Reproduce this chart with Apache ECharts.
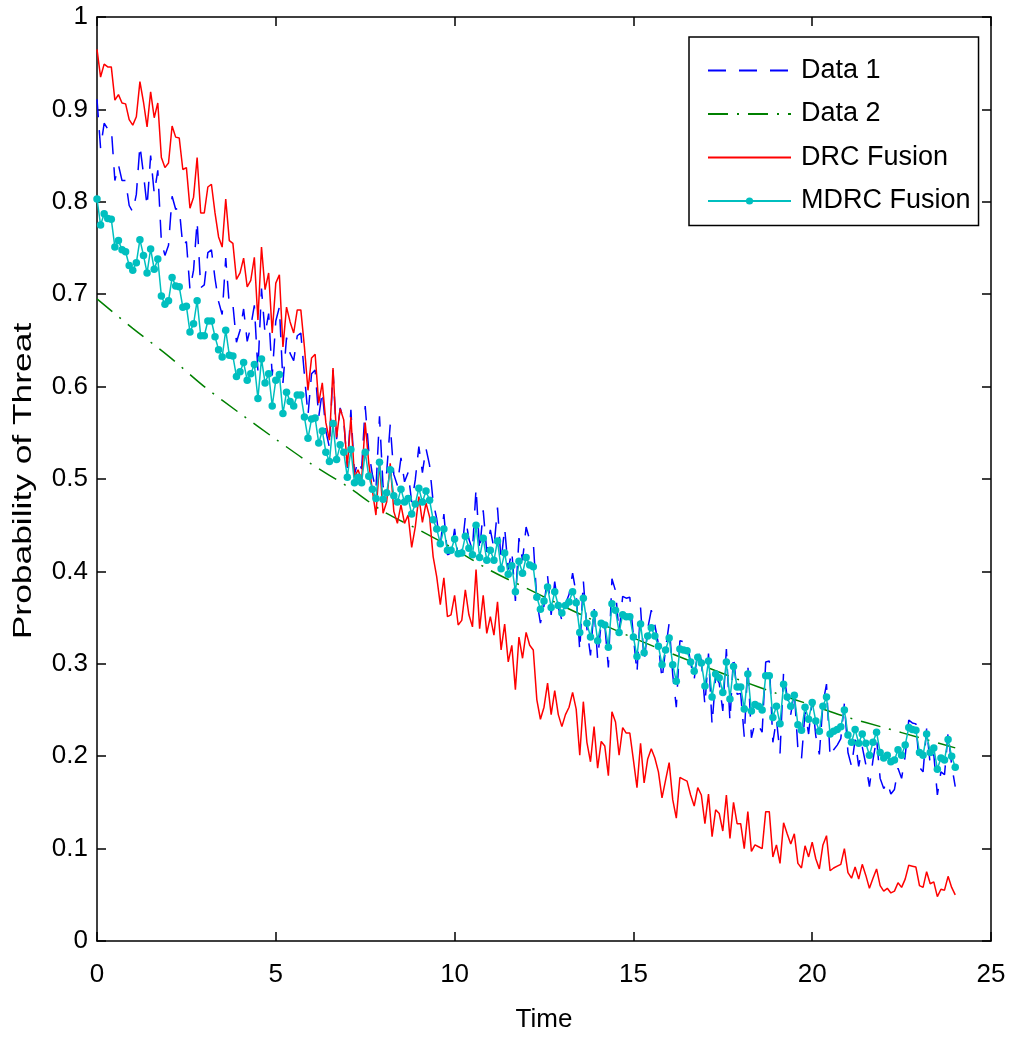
<!DOCTYPE html>
<html><head><meta charset="utf-8">
<script src="https://cdn.jsdelivr.net/npm/echarts@6/dist/echarts.min.js"></script>
<style>html,body{margin:0;padding:0;background:#fff}#c{width:1013px;height:1039px}</style>
</head><body><div id="c"></div>
<script>
// time sample spacing of the noisy series (0 .. 24)
const T_START = 0, T_STEP = 0.1;

const data1 = [0.911,0.858,0.885,0.879,0.880,0.823,0.840,0.823,0.823,0.796,0.789,0.808,0.861,0.830,0.795,0.850,0.809,0.834,0.757,0.742,
0.753,0.806,0.792,0.793,0.752,0.757,0.705,0.726,0.779,0.707,0.710,0.745,0.748,0.717,0.692,0.678,0.739,0.688,0.689,0.648,
0.661,0.684,0.649,0.665,0.688,0.617,0.706,0.657,0.679,0.612,0.671,0.686,0.604,0.653,0.636,0.628,0.655,0.658,0.613,0.569,
0.614,0.618,0.567,0.595,0.552,0.534,0.618,0.543,0.577,0.564,0.512,0.575,0.505,0.520,0.511,0.579,0.530,0.505,0.488,0.568,
0.491,0.507,0.559,0.505,0.493,0.523,0.497,0.507,0.475,0.499,0.535,0.507,0.533,0.515,0.475,0.457,0.428,0.462,0.418,0.420,
0.446,0.416,0.421,0.459,0.435,0.423,0.490,0.422,0.466,0.421,0.445,0.425,0.469,0.411,0.447,0.402,0.422,0.368,0.436,0.412,
0.448,0.434,0.432,0.368,0.344,0.363,0.395,0.353,0.389,0.361,0.347,0.365,0.375,0.398,0.376,0.314,0.390,0.338,0.309,0.361,
0.305,0.345,0.342,0.296,0.392,0.379,0.333,0.373,0.371,0.372,0.330,0.290,0.361,0.301,0.338,0.358,0.342,0.321,0.283,0.316,
0.344,0.288,0.253,0.325,0.324,0.324,0.301,0.283,0.314,0.304,0.255,0.311,0.234,0.286,0.279,0.249,0.316,0.238,0.309,0.267,
0.268,0.221,0.299,0.220,0.236,0.233,0.226,0.302,0.303,0.215,0.240,0.203,0.291,0.264,0.245,0.270,0.208,0.197,0.248,0.224,
0.261,0.222,0.202,0.257,0.278,0.199,0.207,0.212,0.219,0.257,0.204,0.189,0.218,0.189,0.210,0.191,0.167,0.196,0.219,0.176,
0.165,0.172,0.159,0.164,0.187,0.176,0.200,0.239,0.236,0.235,0.188,0.183,0.230,0.191,0.202,0.158,0.183,0.180,0.225,0.190,
0.167];

// Data 2 is smooth: sampled at whole time units
const data2Times = [0,1,2,3,4,5,6,7,8,9,10,11,12,13,14,15,16,17,18,19,20,21,22,23,24];
const data2 = [0.695,0.663,0.633,0.600,0.571,0.543,0.516,0.492,0.465,0.445,0.424,0.401,0.382,0.363,0.345,0.328,0.312,0.297,0.282,0.268,0.255,0.242,0.231,0.220,0.209];

const drc = [0.965,0.935,0.949,0.946,0.946,0.910,0.916,0.907,0.906,0.889,0.883,0.892,0.930,0.908,0.881,0.919,0.891,0.907,0.848,0.837,
0.842,0.882,0.870,0.869,0.835,0.837,0.793,0.805,0.848,0.788,0.788,0.816,0.819,0.788,0.762,0.751,0.803,0.758,0.755,0.716,
0.723,0.739,0.708,0.715,0.740,0.672,0.751,0.705,0.723,0.658,0.712,0.721,0.643,0.686,0.670,0.658,0.683,0.683,0.643,0.596,
0.631,0.635,0.582,0.604,0.561,0.542,0.620,0.545,0.576,0.564,0.513,0.567,0.502,0.510,0.499,0.561,0.517,0.488,0.461,0.518,
0.463,0.475,0.517,0.465,0.452,0.472,0.452,0.461,0.426,0.448,0.481,0.453,0.474,0.459,0.416,0.394,0.364,0.393,0.351,0.353,
0.374,0.342,0.347,0.380,0.353,0.340,0.402,0.338,0.374,0.333,0.351,0.331,0.367,0.315,0.343,0.302,0.320,0.272,0.329,0.306,
0.334,0.320,0.315,0.261,0.240,0.253,0.279,0.245,0.271,0.245,0.232,0.245,0.253,0.269,0.251,0.201,0.259,0.215,0.194,0.232,
0.187,0.216,0.211,0.179,0.248,0.237,0.201,0.231,0.225,0.225,0.196,0.166,0.214,0.171,0.197,0.208,0.198,0.183,0.155,0.174,
0.193,0.153,0.133,0.177,0.175,0.173,0.158,0.146,0.166,0.158,0.127,0.159,0.113,0.142,0.138,0.119,0.158,0.111,0.150,0.127,
0.127,0.100,0.140,0.097,0.104,0.102,0.100,0.140,0.140,0.091,0.104,0.084,0.128,0.116,0.105,0.116,0.084,0.079,0.103,0.091,
0.107,0.089,0.078,0.104,0.114,0.076,0.079,0.081,0.083,0.100,0.074,0.068,0.080,0.067,0.083,0.071,0.057,0.068,0.078,0.060,
0.054,0.057,0.052,0.054,0.063,0.058,0.067,0.082,0.081,0.080,0.060,0.058,0.075,0.062,0.064,0.048,0.056,0.055,0.070,0.058,
0.050];

const mdrc = [0.803,0.775,0.787,0.782,0.781,0.751,0.758,0.748,0.746,0.731,0.726,0.734,0.759,0.742,0.723,0.749,0.727,0.738,0.698,0.689,
0.693,0.718,0.709,0.708,0.686,0.687,0.659,0.668,0.693,0.655,0.655,0.671,0.671,0.654,0.640,0.632,0.661,0.634,0.633,0.611,
0.616,0.626,0.607,0.614,0.624,0.587,0.630,0.604,0.614,0.579,0.607,0.613,0.571,0.594,0.584,0.579,0.591,0.591,0.567,0.544,
0.565,0.566,0.539,0.552,0.529,0.519,0.560,0.521,0.537,0.529,0.502,0.532,0.496,0.502,0.496,0.529,0.503,0.489,0.479,0.518,
0.478,0.485,0.510,0.482,0.475,0.489,0.475,0.479,0.462,0.473,0.490,0.475,0.487,0.477,0.456,0.446,0.430,0.446,0.423,0.423,
0.435,0.419,0.420,0.438,0.425,0.418,0.450,0.415,0.436,0.412,0.423,0.412,0.433,0.403,0.420,0.397,0.406,0.378,0.411,0.398,
0.415,0.407,0.405,0.372,0.359,0.368,0.383,0.361,0.378,0.363,0.355,0.363,0.367,0.378,0.366,0.334,0.371,0.344,0.329,0.354,
0.325,0.344,0.342,0.318,0.365,0.358,0.334,0.353,0.351,0.351,0.329,0.308,0.343,0.312,0.330,0.339,0.330,0.319,0.299,0.315,
0.328,0.299,0.281,0.316,0.315,0.314,0.302,0.292,0.307,0.301,0.276,0.303,0.264,0.289,0.285,0.269,0.302,0.262,0.297,0.275,
0.275,0.251,0.289,0.249,0.256,0.254,0.250,0.287,0.287,0.242,0.254,0.235,0.278,0.264,0.254,0.266,0.234,0.228,0.253,0.240,
0.258,0.238,0.227,0.254,0.264,0.224,0.227,0.229,0.232,0.250,0.223,0.215,0.229,0.214,0.224,0.214,0.201,0.215,0.226,0.204,
0.198,0.201,0.194,0.196,0.207,0.201,0.212,0.231,0.229,0.228,0.204,0.201,0.224,0.204,0.209,0.186,0.198,0.196,0.218,0.200,
0.188];

const xTicks = [0,5,10,15,20,25];
const yTicks = [0,0.1,0.2,0.3,0.4,0.5,0.6,0.7,0.8,0.9,1];

const pairs = arr => arr.map((v,i) => [+(T_START + i*T_STEP).toFixed(1), v]);
const pairsAt = (ts, arr) => arr.map((v,i) => [ts[i], v]);

const FONT = 'Liberation Sans, Arial, sans-serif';
const axisCommon = {
  axisLine:{show:true,onZero:false,lineStyle:{color:'#000',width:1.5}},
  axisTick:{show:true,inside:true,length:9,lineStyle:{color:'#000',width:1.5}},
  splitLine:{show:false}
};
const noDot = {color:'rgba(0,0,0,0)', borderWidth:0};

const chart = echarts.init(document.getElementById('c'), null, {renderer:'canvas'});
chart.setOption({
  animation:false,
  backgroundColor:'#fff',
  grid:{left:97, top:17, right:22, bottom:98, containLabel:false},
  xAxis:[
    Object.assign({type:'value', min:xTicks[0], max:xTicks[xTicks.length-1], interval:5, position:'bottom',
      name:'Time', nameLocation:'middle', nameGap:66,
      nameTextStyle:{fontFamily:FONT,fontSize:26,color:'#000'},
      axisLabel:{fontFamily:FONT,fontSize:26,color:'#000',margin:21}}, axisCommon),
    Object.assign({type:'value', min:xTicks[0], max:xTicks[xTicks.length-1], interval:5, position:'top',
      axisLabel:{show:false}}, axisCommon)
  ],
  yAxis:[
    Object.assign({type:'value', min:yTicks[0], max:yTicks[yTicks.length-1], interval:0.1, position:'left',
      axisLabel:{fontFamily:FONT,fontSize:26,color:'#000',margin:9}}, axisCommon),
    Object.assign({type:'value', min:yTicks[0], max:yTicks[yTicks.length-1], interval:0.1, position:'right',
      axisLabel:{show:false}}, axisCommon)
  ],
  graphic:[{
    type:'text', x:24, y:481, rotation:Math.PI/2, scaleX:1.36,
    style:{text:'Probability of Threat', fontFamily:FONT, fontSize:26, fill:'#000', align:'center', verticalAlign:'middle'}
  }],
  legend:{
    orient:'vertical', left:689, top:37,
    backgroundColor:'#fff', borderColor:'#000', borderWidth:1.5,
    padding:[20,8,11,18], itemWidth:83, itemHeight:9, itemGap:16.5,
    textStyle:{fontFamily:FONT,fontSize:27,color:'#000',padding:[0,0,0,5]},
    data:[
      {name:'Data 1', itemStyle:noDot},
      {name:'Data 2', itemStyle:noDot},
      {name:'DRC Fusion', itemStyle:noDot},
      {name:'MDRC Fusion'}
    ]
  },
  series:[
    {name:'Data 1', type:'line', data:pairs(data1), symbol:'none',
      lineStyle:{color:'#0000ff', width:1.5, type:[18,13]}, itemStyle:{color:'#0000ff'}},
    {name:'Data 2', type:'line', data:pairsAt(data2Times, data2), symbol:'none', smooth:0.3,
      lineStyle:{color:'#008000', width:1.5, type:[20,9,2,9]}, itemStyle:{color:'#008000'}},
    {name:'DRC Fusion', type:'line', data:pairs(drc), symbol:'none',
      lineStyle:{color:'#ff0000', width:1.5}, itemStyle:{color:'#ff0000'}},
    {name:'MDRC Fusion', type:'line', data:pairs(mdrc), symbol:'circle', symbolSize:7.5, showSymbol:true,
      lineStyle:{color:'#00bfbf', width:1.5}, itemStyle:{color:'#00bfbf'}}
  ]
});
</script>
</body></html>
